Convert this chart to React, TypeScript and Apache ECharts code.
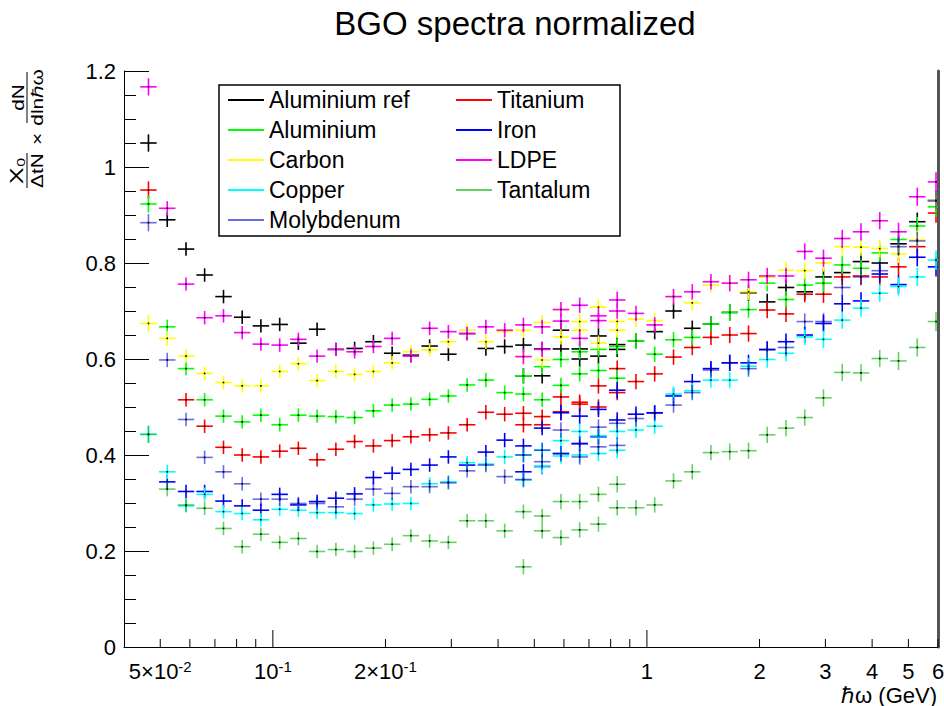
import React, { useEffect, useRef } from 'react';
import * as echarts from 'echarts';

// Bin centres (GeV) of the low-energy and high-energy spectra
const xLow = [0.0465, 0.0522, 0.0586, 0.0657, 0.0738, 0.0828, 0.0929, 0.1043, 0.117, 0.1313, 0.1474, 0.1654, 0.1857, 0.2084, 0.2339, 0.2625, 0.2946, 0.3307, 0.3711, 0.4166, 0.4676, 0.5248, 0.589, 0.6611, 0.742, 0.8328];
const xHigh = [0.4676, 0.5248, 0.589, 0.6611, 0.742, 0.8328, 0.9347, 1.049, 1.178, 1.322, 1.483, 1.665, 1.869, 2.097, 2.354, 2.642, 2.965, 3.328, 3.735, 4.192, 4.705, 5.281, 5.927];
const errLow = [0.018, 0.015, 0.014, 0.014, 0.014, 0.014, 0.014, 0.014, 0.014, 0.014, 0.014, 0.014, 0.014, 0.014, 0.014, 0.014, 0.014, 0.014, 0.015, 0.015, 0.015, 0.015, 0.016, 0.016, 0.016, 0.017];
const errHigh = [0.016, 0.016, 0.016, 0.016, 0.016, 0.016, 0.016, 0.016, 0.016, 0.016, 0.016, 0.017, 0.017, 0.017, 0.017, 0.017, 0.018, 0.018, 0.018, 0.018, 0.019, 0.019, 0.02];

const alRefLow = [1.05, 0.89, 0.829, 0.775, 0.73, 0.687, 0.669, 0.672, 0.633, 0.662, 0.62, 0.622, 0.636, 0.612, 0.608, 0.627, 0.61, 0.653, 0.622, 0.626, 0.629, 0.621, 0.66, 0.621, 0.648, 0.63];
const alRefHigh = [0.565, 0.565, 0.621, 0.6, 0.606, 0.62, 0.638, 0.657, 0.7, 0.664, 0.673, 0.697, 0.738, 0.719, 0.749, 0.74, 0.771, 0.78, 0.803, 0.8, 0.84, 0.886, 0.93];
const titaniumLow = [0.952, null, 0.515, 0.46, 0.416, 0.4, 0.396, 0.408, 0.414, 0.39, 0.412, 0.428, 0.419, 0.43, 0.438, 0.442, 0.446, 0.463, 0.489, 0.485, 0.487, 0.48, 0.521, 0.51, 0.544, 0.58];
const titaniumHigh = [0.463, 0.463, 0.49, 0.506, 0.5, 0.53, 0.553, 0.569, 0.604, 0.624, 0.645, 0.65, 0.653, 0.702, 0.694, 0.735, 0.735, 0.771, 0.773, 0.771, 0.792, 0.834, 0.904];
const aluminiumLow = [0.923, 0.667, 0.58, 0.515, 0.481, 0.469, 0.483, 0.463, 0.483, 0.481, 0.48, 0.478, 0.492, 0.504, 0.506, 0.516, 0.523, 0.546, 0.556, 0.53, 0.527, 0.515, 0.545, 0.569, 0.576, 0.56];
const aluminiumHigh = [0.565, 0.584, 0.599, 0.615, 0.62, 0.626, 0.638, 0.61, 0.64, 0.645, 0.673, 0.697, 0.703, 0.758, 0.724, 0.754, 0.758, 0.796, 0.789, 0.821, 0.849, 0.877, 0.917];
const ironLow = [null, 0.344, 0.324, 0.324, 0.304, 0.294, 0.285, 0.318, 0.296, 0.303, 0.31, 0.319, 0.353, 0.362, 0.37, 0.379, 0.396, 0.379, 0.406, 0.431, 0.419, 0.456, 0.488, 0.481, 0.495, 0.535];
const ironHigh = [0.365, 0.376, 0.403, 0.424, 0.438, 0.473, 0.485, 0.488, 0.523, 0.553, 0.58, 0.592, 0.592, 0.62, 0.636, 0.65, 0.674, 0.715, 0.721, 0.777, 0.755, 0.812, 0.792];
const carbonLow = [0.674, 0.643, 0.606, 0.57, 0.551, 0.544, 0.544, 0.574, 0.59, 0.555, 0.574, 0.568, 0.574, 0.592, 0.615, 0.619, 0.636, 0.66, 0.636, 0.657, 0.66, 0.676, 0.703, 0.678, 0.708, 0.678];
const carbonHigh = [0.605, 0.598, 0.646, 0.66, 0.633, 0.66, 0.683, 0.68, 0.73, 0.717, 0.754, 0.758, 0.74, 0.77, 0.785, 0.784, 0.8, 0.834, 0.833, 0.83, 0.819, 0.848, 0.93];
const ldpeLow = [1.167, 0.914, 0.756, 0.686, 0.69, 0.655, 0.631, 0.629, 0.641, 0.606, 0.62, 0.615, 0.626, 0.643, 0.606, 0.664, 0.657, 0.653, 0.667, 0.66, 0.671, 0.667, 0.703, 0.712, 0.69, 0.723];
const ldpeHigh = [0.605, 0.62, 0.679, 0.643, 0.68, 0.7, 0.695, 0.671, 0.73, 0.74, 0.761, 0.758, 0.765, 0.773, 0.773, 0.824, 0.81, 0.851, 0.865, 0.888, 0.865, 0.938, 0.969];
const copperLow = [0.443, 0.365, 0.294, 0.318, 0.282, 0.278, 0.265, 0.287, 0.285, 0.28, 0.28, 0.278, 0.296, 0.298, 0.299, 0.34, 0.344, 0.384, 0.381, 0.396, 0.4, 0.41, 0.398, 0.4, 0.403, 0.41];
const copperHigh = [0.348, 0.377, 0.43, 0.449, 0.44, 0.449, 0.452, 0.46, 0.527, 0.534, 0.556, 0.556, 0.585, 0.599, 0.612, 0.646, 0.641, 0.681, 0.706, 0.737, 0.751, 0.771, 0.806];
const tantalumLow = [0.443, 0.329, 0.296, 0.289, 0.247, 0.209, 0.235, 0.218, 0.226, 0.199, 0.203, 0.199, 0.206, 0.214, 0.232, 0.221, 0.218, 0.263, 0.263, 0.242, 0.282, 0.273, 0.303, 0.303, 0.318, 0.339];
const tantalumHigh = [0.167, 0.242, 0.228, 0.244, 0.256, 0.29, 0.29, 0.296, 0.346, 0.365, 0.405, 0.407, 0.409, 0.442, 0.456, 0.478, 0.519, 0.572, 0.571, 0.601, 0.596, 0.624, 0.678];
const molybdenumLow = [0.884, 0.598, 0.474, 0.395, 0.365, 0.34, 0.308, 0.308, 0.299, 0.299, 0.292, 0.308, 0.329, 0.32, 0.334, 0.334, 0.342, 0.367, 0.379, 0.355, 0.349, 0.386, 0.403, 0.396, 0.417, 0.42];
const molybdenumHigh = [0.4, 0.41, 0.452, 0.423, 0.458, 0.466, 0.476, 0.487, 0.504, 0.53, 0.577, 0.592, 0.58, 0.619, 0.624, 0.678, 0.678, 0.749, 0.771, 0.784, 0.834, 0.846, 0.93];

const legendCol1 = ['Aluminium ref', 'Aluminium', 'Carbon', 'Copper', 'Molybdenum'];
const legendCol2 = ['Titanium', 'Iron', 'LDPE', 'Tantalum'];

const xTickVals = [0.05, 0.06, 0.07, 0.08, 0.09, 0.1, 0.2, 0.3, 0.4, 0.5, 0.6, 0.7, 0.8, 0.9, 1, 2, 3, 4, 5, 6];
const xMajorTicks = [0.1, 1];
const xLabelVals = [0.05, 0.1, 0.2, 1, 2, 3, 4, 5, 6];
const xLabelTexts = ['{n|5×10}{s|-2}', '{n|10}{s|-1}', '{n|2×10}{s|-1}', '{n|1}', '{n|2}', '{n|3}', '{n|4}', '{n|5}', '{n|6}'];

const FONT = '"Liberation Sans", Arial, Helvetica, sans-serif';
const HW = Math.pow(10, 0.022);

function crossSeries(name: string, color: string, low: (number | null)[], high: (number | null)[]) {
  const data: number[][] = [];
  low.forEach((v, i) => { if (v != null) data.push([xLow[i], v, errLow[i]]); });
  high.forEach((v, i) => { if (v != null) data.push([xHigh[i], v, errHigh[i]]); });
  return {
    type: 'custom',
    name,
    data,
    clip: true,
    itemStyle: { color },
    encode: { x: 0, y: 1 },
    renderItem: (_p: any, api: any) => {
      const x = api.value(0), y = api.value(1), e = api.value(2);
      const c = api.coord([x, y]);
      const l = api.coord([x / HW, y]);
      const r = api.coord([x * HW, y]);
      const t = api.coord([x, y + e]);
      const b = api.coord([x, y - e]);
      const st = { stroke: color, lineWidth: 1.6 };
      return {
        type: 'group',
        children: [
          { type: 'line', shape: { x1: l[0], y1: c[1], x2: r[0], y2: c[1] }, style: st },
          { type: 'line', shape: { x1: c[0], y1: t[1], x2: c[0], y2: b[1] }, style: st },
          { type: 'rect', shape: { x: c[0] - 0.8, y: c[1] - 0.8, width: 1.6, height: 1.6 }, style: { fill: '#000' } },
        ],
      };
    },
  };
}

export default function App() {
  const ref = useRef<HTMLDivElement>(null);
  useEffect(() => {
    if (!ref.current) return;
    const chart = echarts.init(ref.current, null, { renderer: 'svg' });
    const legendBase = {
      orient: 'vertical',
      top: 85,
      itemWidth: 36,
      itemHeight: 2,
      itemGap: 0,
      padding: 0,
      selectedMode: false,
      textStyle: { fontSize: 23, lineHeight: 30, color: '#000', fontFamily: FONT },
    };
    const t = (text: string, x: number, y: number, size: number, align: string, va: string) => ({
      type: 'text', x, y,
      style: { text, font: `${size}px ${FONT}`, fill: '#000', align, verticalAlign: va, textAlign: align, textVerticalAlign: va },
    });
    chart.setOption({
      animation: false,
      backgroundColor: '#fff',
      grid: { left: 124, right: 6, top: 71, bottom: 59, containLabel: false },
      xAxis: {
        type: 'log', logBase: 10, min: 0.04, max: 6,
        axisLine: { show: true, lineStyle: { color: '#000', width: 1 } },
        axisTick: { show: false }, axisLabel: { show: false }, splitLine: { show: false }, minorTick: { show: false },
      },
      yAxis: [
        {
          type: 'value', min: 0, max: 1.2, interval: 0.2,
          axisLine: { show: true, lineStyle: { color: '#000', width: 1 } },
          axisTick: { show: true, inside: true, length: 25, lineStyle: { color: '#000' } },
          minorTick: { show: true, splitNumber: 4, length: 12, lineStyle: { color: '#000' } },
          splitLine: { show: false },
          axisLabel: { fontSize: 22, color: '#000', margin: 8, fontFamily: FONT },
        },
        {
          type: 'value', position: 'right', min: 0, max: 1.2,
          axisLine: { show: true, lineStyle: { color: '#555', width: 3 } },
          axisTick: { show: false }, axisLabel: { show: false }, splitLine: { show: false },
        },
      ],
      legend: [
        { ...legendBase, left: 228, data: legendCol1.map((n) => ({ name: n, icon: 'rect' })) },
        { ...legendBase, left: 456, data: legendCol2.map((n) => ({ name: n, icon: 'rect' })) },
      ],
      graphic: [
        { type: 'rect', z: -1, shape: { x: 219, y: 85, width: 401, height: 151 }, style: { fill: '#fff', stroke: '#000', lineWidth: 1.5 } },
        t('BGO spectra normalized', 515, 23, 33, 'center', 'middle'),
        t('ℏω (GeV)', 937, 695, 22, 'right', 'middle'),
        {
          type: 'group', x: 27, y: 130, rotation: Math.PI / 2, scaleX: 1.3, scaleY: 1,
          children: [
            { type: 'line', shape: { x1: -44.6, y1: 0, x2: -17.7, y2: 0 }, style: { stroke: '#000', lineWidth: 1 } },
            t('X₀', -31.2, -1, 19, 'center', 'bottom'),
            t('ΔtN', -31.2, 2, 16, 'center', 'top'),
            t('×', -6.9, 10, 16, 'center', 'middle'),
            { type: 'line', shape: { x1: 5.4, y1: 0, x2: 44.6, y2: 0 }, style: { stroke: '#000', lineWidth: 1 } },
            t('dN', 25, -1, 16, 'center', 'bottom'),
            t('dlnℏω', 25, 2, 16, 'center', 'top'),
          ],
        },
      ],
      series: [
        crossSeries('Aluminium ref', '#000000', alRefLow, alRefHigh),
        crossSeries('Titanium', '#ff0000', titaniumLow, titaniumHigh),
        crossSeries('Aluminium', '#00ff00', aluminiumLow, aluminiumHigh),
        crossSeries('Iron', '#0000ff', ironLow, ironHigh),
        crossSeries('Carbon', '#ffff00', carbonLow, carbonHigh),
        crossSeries('LDPE', '#ff00ff', ldpeLow, ldpeHigh),
        crossSeries('Copper', '#00ffff', copperLow, copperHigh),
        crossSeries('Tantalum', 'rgba(0,180,0,0.6)', tantalumLow, tantalumHigh),
        crossSeries('Molybdenum', 'rgba(0,0,210,0.58)', molybdenumLow, molybdenumHigh),
        {
          type: 'custom', name: 'xticks', silent: true, clip: false, z: 5,
          data: xTickVals.map((v) => [v, 0]),
          renderItem: (_p: any, api: any) => {
            const v = api.value(0);
            const pt = api.coord([v, 0]);
            const len = xMajorTicks.includes(v) ? 17 : 8;
            return { type: 'line', shape: { x1: pt[0], y1: pt[1], x2: pt[0], y2: pt[1] - len }, style: { stroke: '#000', lineWidth: 1 } };
          },
        },
        {
          type: 'custom', name: 'xlabels', silent: true, clip: false, z: 5,
          data: xLabelVals.map((v, i) => [v, 0, i]),
          renderItem: (_p: any, api: any) => {
            const i = api.value(2);
            const pt = api.coord([api.value(0), 0]);
            return {
              type: 'text', x: pt[0], y: pt[1] + 12,
              style: {
                text: xLabelTexts[i], align: 'center', verticalAlign: 'top', fill: '#000',
                rich: {
                  n: { fontSize: 22, lineHeight: 24, fontFamily: FONT, fill: '#000', verticalAlign: 'middle' },
                  s: { fontSize: 15, lineHeight: 15, fontFamily: FONT, fill: '#000', verticalAlign: 'top' },
                },
              },
            };
          },
        },
      ],
    });
    return () => chart.dispose();
  }, []);
  return <div ref={ref} style={{ position: 'fixed', left: 0, top: 0, width: 944, height: 706 }} />;
}
